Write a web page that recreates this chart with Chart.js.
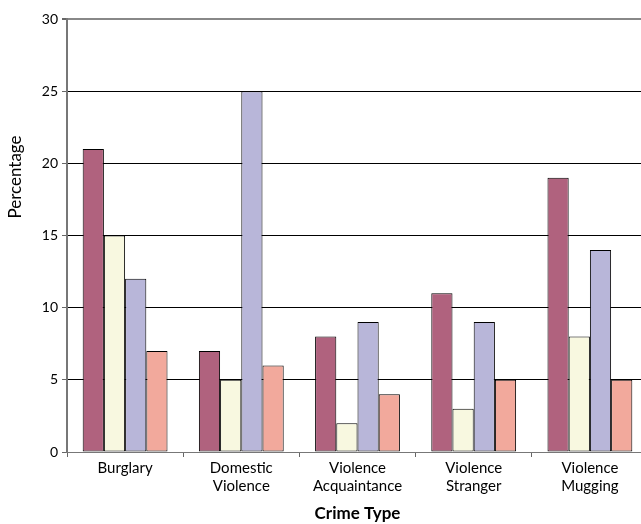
<!DOCTYPE html>
<html>
<head>
<meta charset="utf-8">
<script src="https://cdn.jsdelivr.net/npm/chart.js@4/dist/chart.umd.min.js"></script>
<style>
  html, body { margin: 0; padding: 0; overflow: hidden; background: #fff; }
  #wrap { width: 648px; height: 524px; }
</style>
</head>
<body>
<div id="wrap"><canvas id="crimeChart"></canvas></div>
<script>
// Crime types and the four series (percentages)
const categories = [['Burglary'], ['Domestic', 'Violence'], ['Violence', 'Acquaintance'], ['Violence', 'Stranger'], ['Violence', 'Mugging']];
const series1 = [21, 7, 8, 11, 19];
const series2 = [15, 5, 2, 3, 8];
const series3 = [12, 25, 9, 9, 14];
const series4 = [7, 6, 4, 5, 5];
const yTicks = [0, 5, 10, 15, 20, 25, 30];

const fontFamily = 'Lato, "DejaVu Sans", sans-serif';

// y axis title sits higher than the axis centre, so draw it by hand
const yTitle = {
    id: 'yTitle',
    afterDraw(chart) {
        const c = chart.ctx;
        c.save();
        c.translate(16, 177);
        c.rotate(-Math.PI / 2);
        c.font = '17px ' + fontFamily;
        c.fillStyle = '#000';
        c.textAlign = 'center';
        c.textBaseline = 'middle';
        c.fillText('Percentage', 0, 0);
        c.restore();
    }
};

const ds = (data, color) => ({
    data: data,
    backgroundColor: color,
    borderColor: '#000',
    borderWidth: 1,
    borderSkipped: false
});

const ctx = document.getElementById('crimeChart').getContext('2d');
const crimeChart = new Chart(ctx, {
    type: 'bar',
    data: {
        labels: categories,
        datasets: [
            ds(series1, '#b0627e'),
            ds(series2, '#f8f8e0'),
            ds(series3, '#b8b6d9'),
            ds(series4, '#f2a99c')
        ]
    },
    options: {
        responsive: true,
        maintainAspectRatio: false,
        animation: false,
        layout: { padding: { top: 19, right: 0, bottom: 0, left: 0 } },
        datasets: { bar: { categoryPercentage: 0.73, barPercentage: 1 } },
        plugins: {
            legend: { display: false },
            tooltip: { enabled: false }
        },
        scales: {
            x: {
                offset: true,
                grid: {
                    offset: true,
                    drawOnChartArea: false,
                    drawTicks: true,
                    tickLength: 5,
                    tickColor: '#666'
                },
                border: { color: '#777', width: 1 },
                ticks: {
                    color: '#000',
                    font: { family: fontFamily, size: 15, lineHeight: 1.15 },
                    padding: 3,
                    maxRotation: 0
                },
                title: {
                    display: true,
                    text: 'Crime Type',
                    color: '#000',
                    font: { family: fontFamily, size: 17, weight: 'bold' },
                    padding: { top: 2, bottom: 0 }
                },
                afterFit(s) { s.height = 72; }
            },
            y: {
                min: 0,
                max: 30,
                afterBuildTicks(s) { s.ticks = yTicks.map(v => ({ value: v })); },
                grid: {
                    color: c => (c.tick && (c.tick.value === 30 || c.tick.value === 0)) ? '#888' : '#000',
                    lineWidth: c => (c.tick && c.tick.value === 30) ? 2 : 1,
                    tickLength: 5,
                    tickColor: '#666'
                },
                border: { color: '#777', width: 2 },
                ticks: {
                    color: '#000',
                    font: { family: fontFamily, size: 14 },
                    padding: 4
                },
                afterFit(s) { s.width = 67; }
            }
        }
    },
    plugins: [yTitle]
});
</script>
</body>
</html>
